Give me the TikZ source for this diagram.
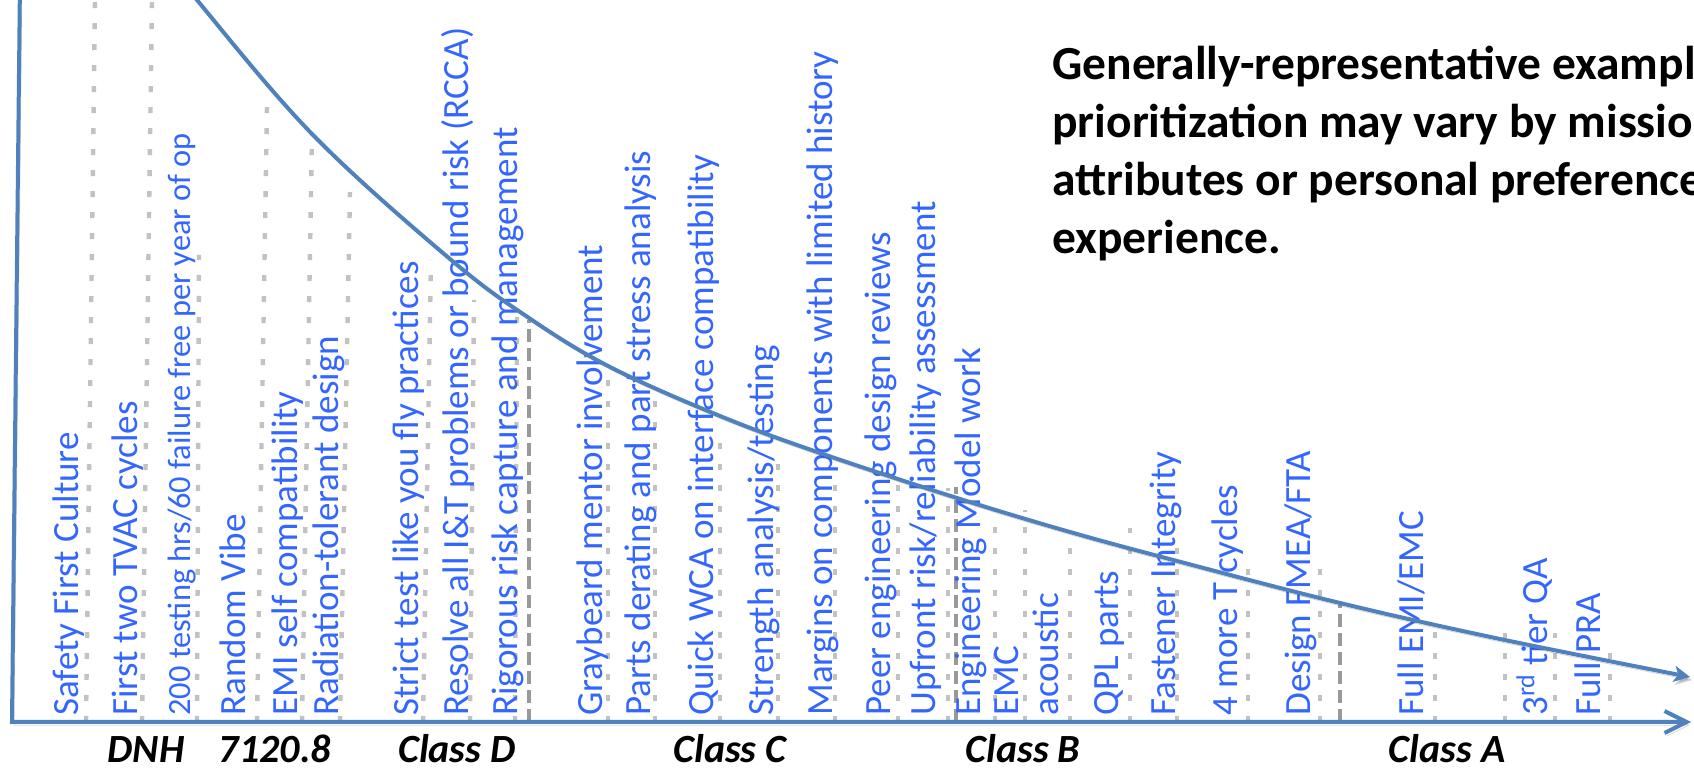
\documentclass[tikz,border=0pt]{standalone}
\usepackage{fontspec}
\setmainfont{Carlito}
\usepackage{tikz}
\usetikzlibrary{arrows.meta}
\definecolor{axisblue}{RGB}{79,129,189}
\definecolor{itemblue}{RGB}{51,102,255}
\tikzset{lineshadow/.style={preaction={draw=black, opacity=0.16, transform canvas={xshift=1pt, yshift=-1.6pt}}}}
\tikzset{axisline/.style={draw=axisblue, line width=2pt, lineshadow, -{Straight Barb[length=11pt, width=11pt]}}}
\tikzset{costcurve/.style={draw=axisblue, line width=2pt, lineshadow, -{Stealth[length=8pt, width=8pt, inset=2pt]}}}
\tikzset{dotline/.style={draw=black!24, line width=2.2pt, dash pattern=on 3pt off 7.5pt}}
\tikzset{divider/.style={draw=black!40, line width=2.2pt, dash pattern=on 6.5pt off 3pt}}
\tikzset{item/.style={rotate=90, anchor=base west, inner sep=0pt, text=itemblue, font=\fontsize{18.5}{18.5}\selectfont}}
\tikzset{itemsmall/.style={item, font=\fontsize{16.2}{16.2}\selectfont}}
\tikzset{classlbl/.style={anchor=base, inner sep=0pt, font=\fontsize{20}{20}\selectfont\bfseries\itshape}}
\tikzset{note/.style={anchor=base west, inner sep=0pt, align=left, font=\fontsize{23.75}{29}\selectfont\bfseries}}

\begin{document}
\begin{tikzpicture}[x=0.5pt, y=0.5pt]
	\useasboundingbox (0,0) rectangle (1694,771);
	\clip (0,0) rectangle (1694,771);

	% one dotted drop per practice, axis up to the curve
	\foreach \xb/\xt/\yt in {86/95/771, 142/152/771, 197/199/516, 257/267/664, 302/312/636,
			340/350/579, 423/431/511, 470/474/471, 515/517/456, 608/608/403, 655/655/381,
			720/720/338, 778/778/314, 835/835/294, 898/898/293, 948/948/283, 995/995/261,
			1025/1025/261, 1070/1070/239, 1130/1130/243, 1177/1177/233, 1248/1248/211,
			1320/1320/211, 1435/1435/139, 1505/1505/138, 1555/1555/138, 1610/1610/118}
		\draw[dotline] (\xb,49) -- (\xt,\yt);

	% class boundaries
	\coordinate (dc) at (529,49);
	\coordinate (cb) at (956,49);
	\coordinate (ba) at (1340,49);
	\draw[divider] (dc) -- ++(0,402);
	\draw[divider] (cb) -- ++(0,235);
	\draw[divider] (ba) -- ++(0,117);

	\node[item] (safety) at (78,55) {Safety First Culture};
	\node[item] (tvac) at (137,55) {First two TVAC cycles};
	\node[itemsmall] (hours) at (190,55) {200 testing hrs/60 failure free per year of op};
	\node[item] (vibe) at (245,55) {Random Vibe};
	\node[item] (emiself) at (297,55) {EMI self compatibility};
	\node[item] (radtol) at (338,55) {Radiation-tolerant design};
	\node[item] (strict) at (418,55) {Strict test like you fly practices};
	\node[item] (rcca) at (468,55) {Resolve all I\&T problems or bound risk (RCCA)};
	\node[item] (riskmgmt) at (517,55) {Rigorous risk capture and management};
	\node[item] (graybeard) at (602,55) {Graybeard mentor involvement};
	\node[item] (derating) at (650,55) {Parts derating and part stress analysis};
	\node[item] (wca) at (713,55) {Quick WCA on interface compatibility};
	\node[item] (strength) at (773,55) {Strength analysis/testing};
	\node[item] (margins) at (832,55) {Margins on components with limited history};
	\node[item] (peer) at (890,55) {Peer engineering design reviews};
	\node[item] (upfront) at (935,55) {Upfront risk/reliability assessment};
	\node[item] (engmodel) at (980,55) {Engineering Model work};
	\node[item] (emc) at (1018,55) {EMC};
	\node[item] (acoustic) at (1058,55) {acoustic};
	\node[item] (qpl) at (1118,55) {QPL parts};
	\node[item] (fastener) at (1175,55) {Fastener Integrity};
	\node[item] (tcycles) at (1237,55) {4 more T cycles};
	\node[item] (fmea) at (1310,55) {Design FMEA/FTA};
	\node[item] (emifull) at (1423,55) {Full EMI/EMC};
	\node[item] (tierqa) at (1547,55) {3\textsuperscript{rd} tier QA};
	\node[item] (pra) at (1600,55) {Full PRA};

	% axes and the decreasing curve
	\coordinate (top) at (20,790);
	\coordinate (origin) at (12,49);
	\coordinate (xend) at (1691,49);
	\draw[axisline] (top) -- (origin) -- (xend);
	\draw[costcurve] plot[smooth, tension=0.6] coordinates {(150,832) (197,771) (313,636)
		(450,512) (529,453) (610,404) (720,355) (820,318) (957,273) (1070,239) (1177,210)
		(1340,168) (1500,132) (1690,94)};

	\node[classlbl] (dnh) at (146,8) {DNH};
	\node[classlbl] (std) at (275,8) {7120.8};
	\node[classlbl] (classd) at (457,8) {Class D};
	\node[classlbl] (classc) at (730,8) {Class C};
	\node[classlbl] (classb) at (1023,8) {Class B};
	\node[classlbl] (classa) at (1447,8) {Class A};

	% anchored on the baseline of the last line
	\node[note] (caveat) at (1052,517) {Generally-representative examples;\\
		prioritization may vary by mission\\
		attributes or personal preference/\\
		experience.};
\end{tikzpicture}
\end{document}
